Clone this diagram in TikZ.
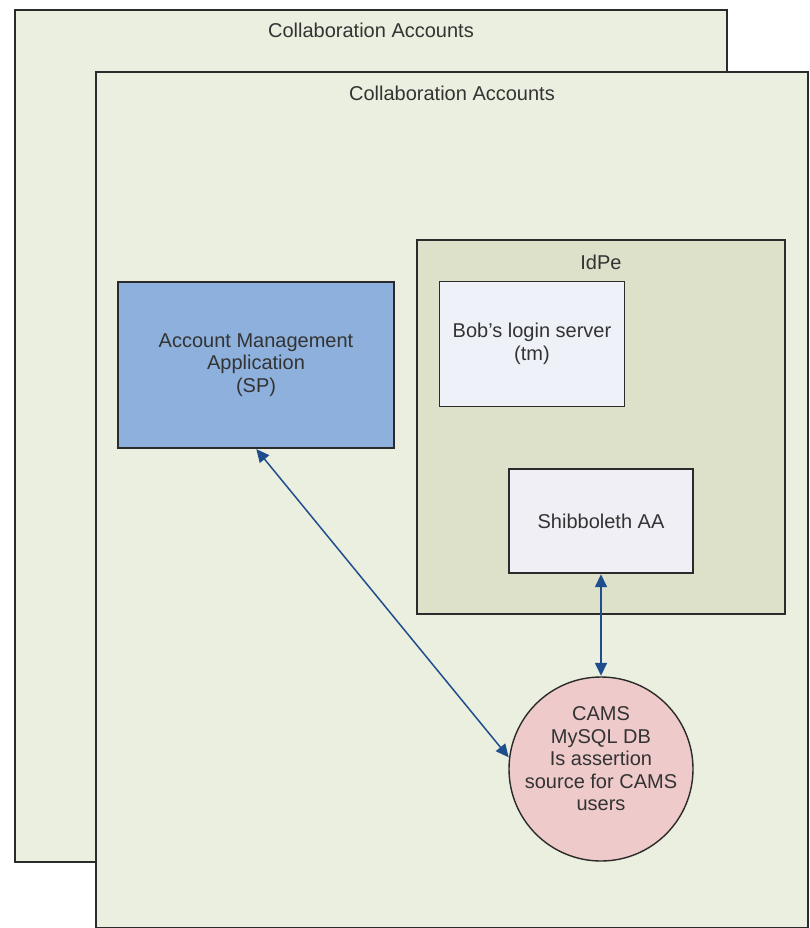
\documentclass[tikz,border=0pt]{standalone}
\usepackage{fontspec}
\setmainfont{Liberation Sans}
\usetikzlibrary{arrows.meta}
\definecolor{framefill}{HTML}{EBEFDF}
\definecolor{idpefill}{HTML}{DDE1C9}
\definecolor{spfill}{HTML}{8DB0DC}
\definecolor{bobfill}{HTML}{EEF1F7}
\definecolor{shibfill}{HTML}{F0EFF5}
\definecolor{camsfill}{HTML}{EECACA}
\definecolor{edge}{HTML}{2B2B2B}
\definecolor{txt}{HTML}{333333}
\definecolor{arrowblue}{HTML}{1F4E8F}
\tikzset{
  box/.style={draw=edge, line width=1.4pt, rectangle, inner sep=0pt, align=center, text=txt,
    font=\fontsize{20}{22.5}\selectfont},
  title/.style={text=txt, inner sep=0pt, font=\fontsize{20}{22.5}\selectfont},
  link/.style={draw=arrowblue, line width=1.5pt, {Triangle[length=13pt,width=12pt]}-{Triangle[length=13pt,width=12pt]}, shorten <=0.5pt, shorten >=0.5pt}
}
\begin{document}
\begin{tikzpicture}[x=1pt,y=-1pt]
\useasboundingbox[fill=white] (0,0) rectangle (809,928);
% back frame
\node[box, fill=framefill, minimum width=712pt, minimum height=852pt] (back) at (371,436) {};
\node[title] (backtitle) at (371,30) {Collaboration Accounts};
% front frame
\node[box, fill=framefill, minimum width=712pt, minimum height=856pt] (front) at (452,500) {};
\node[title] (fronttitle) at (452,93) {Collaboration Accounts};
% IdPe
\node[box, fill=idpefill, minimum width=368pt, minimum height=374pt] (idpe) at (601,427) {};
\node[title] (idpetitle) at (601,262) {IdPe};
% boxes
\node[box, fill=spfill, minimum width=276pt, minimum height=166pt] (sp) at (256,365)
  {Account Management\\Application\\(SP)};
\node[box, fill=bobfill, minimum width=185pt, minimum height=125pt] (bob) at (532,344)
  {Bob's login server\\(tm)};
\node[box, fill=shibfill, minimum width=184pt, minimum height=104pt] (shib) at (601,521)
  {Shibboleth AA};
% CAMS circle
\node[draw=edge, line width=1.4pt, circle, fill=camsfill, minimum size=184pt, inner sep=0pt] (cams) at (601,769) {};
\node[title, align=center] (camstext) at (601,759) {CAMS\\MySQL DB\\Is assertion\\source for CAMS\\users};
% connectors
\draw[link] (sp.south) -- (cams.173);
\draw[link] (shib.south) -- (cams.north);
\end{tikzpicture}
\end{document}
